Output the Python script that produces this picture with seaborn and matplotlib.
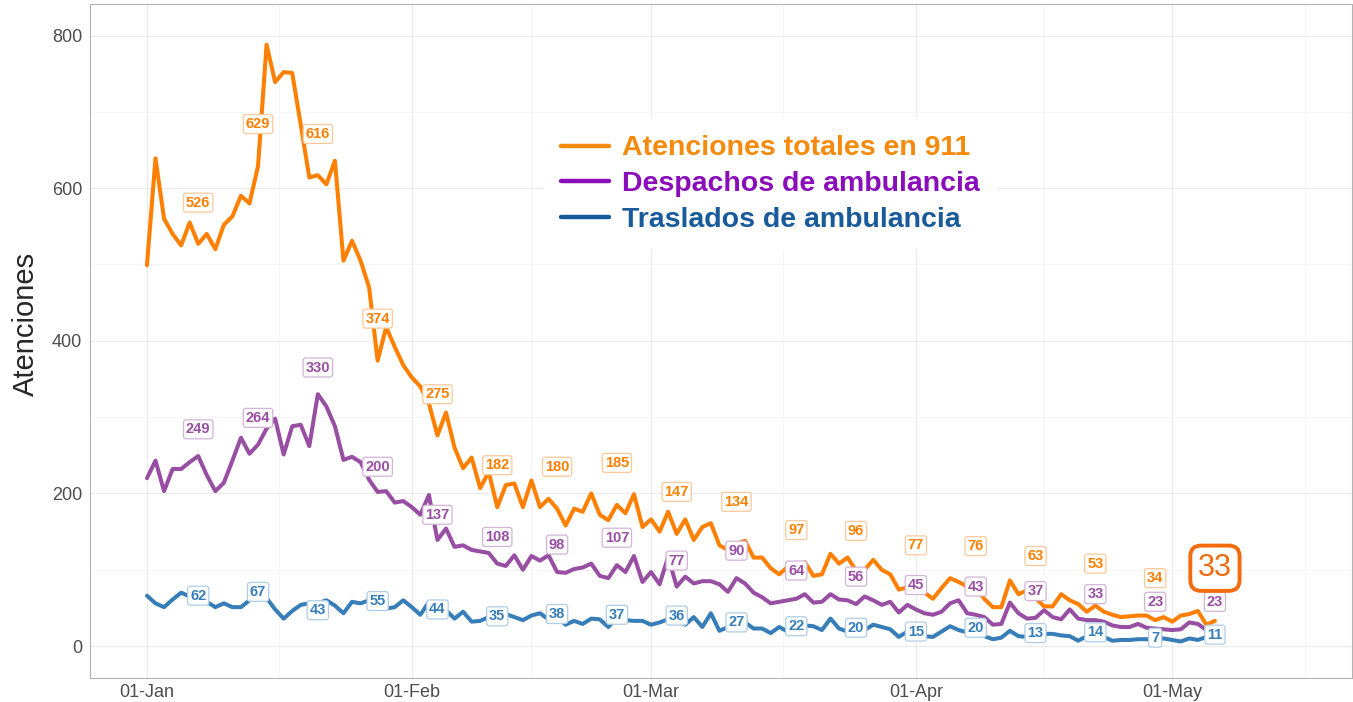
import pandas as pd
import seaborn as sns
import matplotlib.pyplot as plt
import matplotlib.dates as mdates
from matplotlib.lines import Line2D

start = "2021-01-01"

# daily values, 01-Jan .. 06-May
atenciones = [
    499, 639, 560, 540, 525, 555, 527, 540, 520, 552,
    563, 590, 580, 629, 788, 739, 752, 751, 683, 614,
    617, 605, 636, 505, 531, 505, 470, 374, 418, 392,
    368, 352, 340, 318, 276, 306, 260, 233, 247, 207,
    228, 182, 211, 213, 182, 217, 182, 193, 180, 158,
    180, 176, 200, 172, 165, 185, 174, 199, 156, 166,
    150, 176, 147, 166, 139, 156, 161, 132, 126, 134,
    138, 116, 116, 102, 94, 104, 100, 110, 92, 94,
    121, 108, 116, 99, 100, 113, 100, 94, 74, 77,
    72, 70, 62, 76, 89, 84, 78, 76, 62, 51,
    51, 86, 68, 73, 63, 52, 52, 68, 60, 55,
    45, 53, 45, 41, 38, 39, 40, 40, 34, 38,
    32, 40, 42, 46, 28, 33,
]
despachos = [
    220, 243, 203, 232, 232, 241, 249, 224, 203, 214,
    243, 273, 252, 264, 285, 298, 251, 288, 290, 262,
    330, 314, 288, 244, 248, 241, 218, 202, 203, 188,
    190, 182, 172, 198, 139, 154, 130, 132, 126, 124,
    122, 108, 105, 119, 100, 118, 112, 119, 97, 96,
    101, 103, 108, 92, 89, 106, 97, 118, 84, 97,
    81, 117, 78, 91, 82, 85, 85, 81, 71, 89,
    82, 70, 64, 56, 58, 60, 62, 68, 57, 58,
    68, 61, 60, 55, 65, 60, 54, 58, 44, 54,
    48, 43, 41, 45, 56, 60, 43, 41, 38, 28,
    29, 57, 43, 36, 37, 47, 38, 35, 48, 36,
    34, 34, 32, 27, 25, 25, 29, 24, 23, 22,
    21, 22, 31, 29, 21, 20,
]
traslados = [
    66, 56, 51, 61, 70, 65, 62, 58, 51, 56,
    51, 51, 60, 67, 63, 48, 36, 46, 54, 56,
    56, 60, 53, 43, 58, 56, 60, 56, 49, 51,
    60, 51, 41, 58, 49, 47, 36, 45, 32, 33,
    38, 36, 42, 38, 34, 40, 43, 35, 38, 28,
    33, 29, 36, 35, 25, 37, 34, 33, 33, 28,
    31, 35, 34, 28, 38, 25, 43, 20, 25, 29,
    31, 23, 23, 17, 25, 19, 22, 27, 26, 21,
    36, 23, 19, 20, 21, 28, 25, 22, 12, 19,
    16, 13, 12, 19, 26, 21, 18, 17, 13, 9,
    11, 20, 13, 12, 13, 16, 16, 14, 13, 7,
    13, 12, 12, 7, 8, 8, 9, 9, 8, 10,
    8, 6, 10, 8, 12, 11,
]

# weekly labels
label_days = list(range(6, 126, 7))
lab_atenciones = [526, 629, 616, 374, 275, 182, 180, 185, 147, 134, 97, 96, 77, 76, 63, 53, 34]
lab_despachos = [249, 264, 330, 200, 137, 108, 98, 107, 77, 90, 64, 56, 45, 43, 37, 33, 23, 23]
lab_traslados = [62, 67, 43, 55, 44, 35, 38, 37, 36, 27, 22, 20, 15, 20, 13, 14, 7, 11]

series_names = ["Atenciones totales en 911", "Despachos de ambulancia", "Traslados de ambulancia"]
line_colors = ["#FF7F00", "#984EA3", "#377EB8"]
light_colors = ["#FFC899", "#D2B4D8", "#AFCDE6"]
legend_colors = ["#F58A0C", "#8A0DBA", "#185A9A"]

fechas = pd.date_range(start, periods=len(atenciones), freq="D")
df = pd.concat(
    [
        pd.DataFrame({"fecha": fechas, "valor": vals, "serie": name})
        for name, vals in zip(series_names, [atenciones, despachos, traslados])
    ]
)

sns.set_style("white")
plt.rcParams["font.family"] = ["Liberation Sans", "DejaVu Sans"]

fig, ax = plt.subplots(figsize=(13.53, 7.02), dpi=100)
fig.subplots_adjust(left=0.0665, right=0.999, top=0.994, bottom=0.034)

sns.lineplot(
    data=df,
    x="fecha",
    y="valor",
    hue="serie",
    hue_order=series_names,
    palette=line_colors,
    linewidth=2.9,
    ax=ax,
    legend=False,
)

# value labels
label_sets = [
    (lab_atenciones, 55, line_colors[0], light_colors[0]),
    (lab_despachos, 35, line_colors[1], light_colors[1]),
    (lab_traslados, 4, line_colors[2], light_colors[2]),
]
for labs, nudge, col, light in label_sets:
    for d, v in zip(label_days, labs):
        ax.text(
            fechas[d], v + nudge, str(v),
            ha="center", va="center", color=col,
            fontsize=10.5, fontweight="bold", zorder=5,
            bbox=dict(boxstyle="round,pad=0.17", fc="white", ec=light, lw=0.9),
        )

# last value highlighted
ax.text(
    fechas[-1], atenciones[-1] + 69, str(atenciones[-1]),
    ha="center", va="center", color="#F26B0F", fontsize=22, zorder=6,
    bbox=dict(boxstyle="round,pad=0.25,rounding_size=0.35", fc="white", ec="#F26B0F", lw=2.8),
)

# legend
handles = [Line2D([0], [0], color=c, lw=3.2) for c in legend_colors]
leg = ax.legend(
    handles, series_names,
    loc="center", bbox_to_anchor=(0.539, 0.733),
    frameon=True, facecolor="white", edgecolor="none", framealpha=1,
    prop={"size": 20.5, "weight": "bold"},
    handlelength=1.7, handletextpad=0.45, labelspacing=0.34, borderpad=0.6,
)
for txt, c in zip(leg.get_texts(), legend_colors):
    txt.set_color(c)

# axes
ax.set_ylim(-42, 841)
ax.set_xlim(fechas[0] - pd.Timedelta(days=6.67), fechas[0] + pd.Timedelta(days=141))
ax.set_yticks([0, 200, 400, 600, 800])
ax.set_yticks([100, 300, 500, 700], minor=True)

month_starts = pd.date_range("2021-01-01", "2021-06-01", freq="MS")
ax.set_xticks(month_starts[:-1])
mids = [a + (b - a) / 2 for a, b in zip(month_starts[:-1], month_starts[1:])]
ax.set_xticks(mids, minor=True)
ax.xaxis.set_major_formatter(mdates.DateFormatter("%d-%b"))

ax.grid(which="major", color="#EBEBEB", lw=0.9)
ax.grid(which="minor", color="#F4F4F4", lw=0.6)
ax.set_axisbelow(True)
for s in ax.spines.values():
    s.set_color("#B3B3B3")
    s.set_linewidth(0.8)
ax.tick_params(which="major", length=4, color="#B3B3B3", labelcolor="#4D4D4D", labelsize=13, pad=1.5)
ax.tick_params(axis="x", which="major", pad=0.5)
ax.tick_params(which="minor", length=0)

ax.set_xlabel("")
ax.set_ylabel("Atenciones", fontsize=21)
ax.yaxis.set_label_coords(-0.040, 0.525)

fig.savefig("out.png", dpi=100)
